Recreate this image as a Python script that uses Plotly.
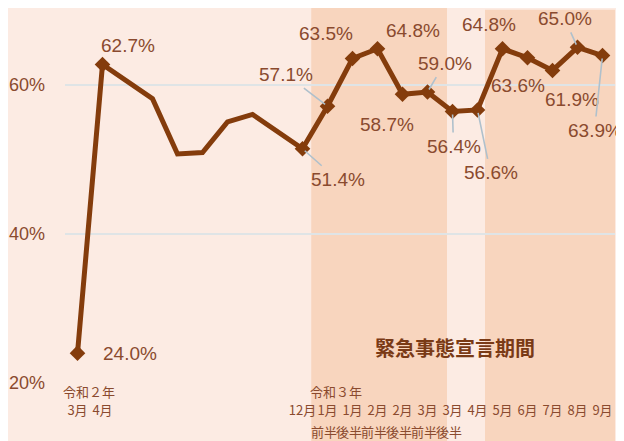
import plotly.graph_objects as go

# survey periods (令和2年3月 .. 令和3年9月); 5月 and 11月 2020 have no value
month_labels = ["3月", "4月", "5月", "6月", "7月", "8月", "9月", "10月", "11月",
                "12月", "1月", "1月", "2月", "2月", "3月", "3月",
                "4月", "5月", "6月", "7月", "8月", "9月"]
half_labels = ["", "", "", "", "", "", "", "", "", "",
               "前半", "後半", "前半", "後半", "前半", "後半",
               "", "", "", "", "", ""]
shown_ticks = ["3月", "4月", "", "", "", "", "", "", "",
               "12月", "1月", "1月", "2月", "2月", "3月", "3月",
               "4月", "5月", "6月", "7月", "8月", "9月"]
rates = [24.0, 62.7, None, 58.1, 50.7, 50.9, 55.0, 56.0, None,
         51.4, 57.1, 63.5, 64.8, 58.7, 59.0, 56.4,
         56.6, 64.8, 63.6, 61.9, 65.0, 63.9]
labelled = [True, True, False, False, False, False, False, False, False,
            True, True, True, True, True, True, True,
            True, True, True, True, True, True]
era_labels = ["令和２年", "令和３年"]
emergency_title = "緊急事態宣言期間"

x = list(range(len(rates)))

LINE = "#843C0C"
TEXT = "#8A4A2E"
BG = "#FCEBE3"
SHADE = "#F8D5BE"
LEADER = "#AFC0CC"

# label placement: (dx, dy) pixels from the point, screen direction, and leader line flag
label_pos = {
    0: (52, 0, False), 1: (25, -19, False),
    9: (35, 31, True), 10: (-42, -32, True), 11: (-27, -25, False),
    12: (35, -18, False), 13: (-16, 30, False), 14: (17, -29, True),
    15: (1, 35, True), 16: (13, 63, True), 17: (-14, -24, False),
    18: (-10, 28, False), 19: (19, 29, False), 20: (-13, -29, True),
    21: (-8, 75, True),
}

fig = go.Figure()

fig.add_trace(go.Scatter(
    x=x, y=rates, mode="lines", connectgaps=True,
    line=dict(color=LINE, width=5), hoverinfo="skip", showlegend=False,
))
fig.add_trace(go.Scatter(
    x=[i for i in x if labelled[i]],
    y=[rates[i] for i in x if labelled[i]],
    mode="markers",
    marker=dict(symbol="diamond", size=12, color=LINE),
    showlegend=False,
))

label_font = dict(family="Liberation Sans Narrow, Liberation Sans", size=19, color=TEXT)
annotations = []
for i, (dx, dy, leader) in label_pos.items():
    txt = f"{rates[i]:.1f}%"
    if leader:
        annotations.append(dict(
            x=i, y=rates[i], xref="x", yref="y", text=txt, font=label_font,
            showarrow=True, arrowhead=0, arrowwidth=1.6, arrowcolor=LEADER,
            ax=dx, ay=dy, standoff=3, borderpad=3,
        ))
    else:
        annotations.append(dict(
            x=i, y=rates[i], xref="x", yref="y", text=txt, font=label_font,
            showarrow=False, xshift=dx, yshift=-dy,
        ))

cjk = "Noto Sans CJK JP"
for xi, txt in zip([0.45, 10.35], era_labels):
    annotations.append(dict(x=xi, y=-0.024, xref="x", yref="paper", text=txt,
                            showarrow=False, yanchor="middle",
                            font=dict(family=cjk, size=13, color=TEXT)))
for i, txt in enumerate(half_labels):
    if txt:
        annotations.append(dict(x=i, y=-0.131, xref="x", yref="paper", text=txt,
                                showarrow=False, yanchor="middle", xshift=-4,
                                font=dict(family=cjk, size=13, color=TEXT)))
annotations.append(dict(x=15.1, y=20 + (383 - 347) / 7.46, xref="x", yref="y",
                        text=f"<b>{emergency_title}</b>", showarrow=False,
                        font=dict(family=cjk, size=20, color="#7A3A16")))

shapes = [
    dict(type="rect", xref="x", yref="paper", x0=9.35, x1=14.78, y0=-0.2, y1=1.006,
         fillcolor=SHADE, line_width=0, layer="below"),
    dict(type="rect", xref="x", yref="paper", x0=16.3, x1=21.5, y0=-0.2, y1=1.001,
         fillcolor=SHADE, line_width=0, layer="below"),
]

# the page body adds an 8px margin, so the figure is 8px smaller than the window
fig.update_layout(
    width=616, height=433,
    margin=dict(l=57, r=9, t=2, b=58),
    paper_bgcolor=BG, plot_bgcolor=BG,
    annotations=annotations, shapes=shapes,
    showlegend=False,
)
fig.update_xaxes(
    range=[-0.5, 21.5], tickmode="array", tickvals=x, ticktext=shown_ticks,
    showgrid=False, zeroline=False, showline=False, ticks="", tickangle=0,
    automargin=False,
    tickfont=dict(family=cjk, size=13, color=TEXT), ticklabelstandoff=18,
)
fig.update_yaxes(
    range=[20, 70], tickvals=[20, 40, 60], ticktext=["20%", "40%", "60%"],
    showgrid=True, gridcolor="#DFE4E6", gridwidth=2, zeroline=False,
    showline=False, ticks="", ticklabelstandoff=19, automargin=False,
    tickfont=dict(family="Liberation Sans", size=18, color=TEXT),
)

fig.write_html("out.html")
